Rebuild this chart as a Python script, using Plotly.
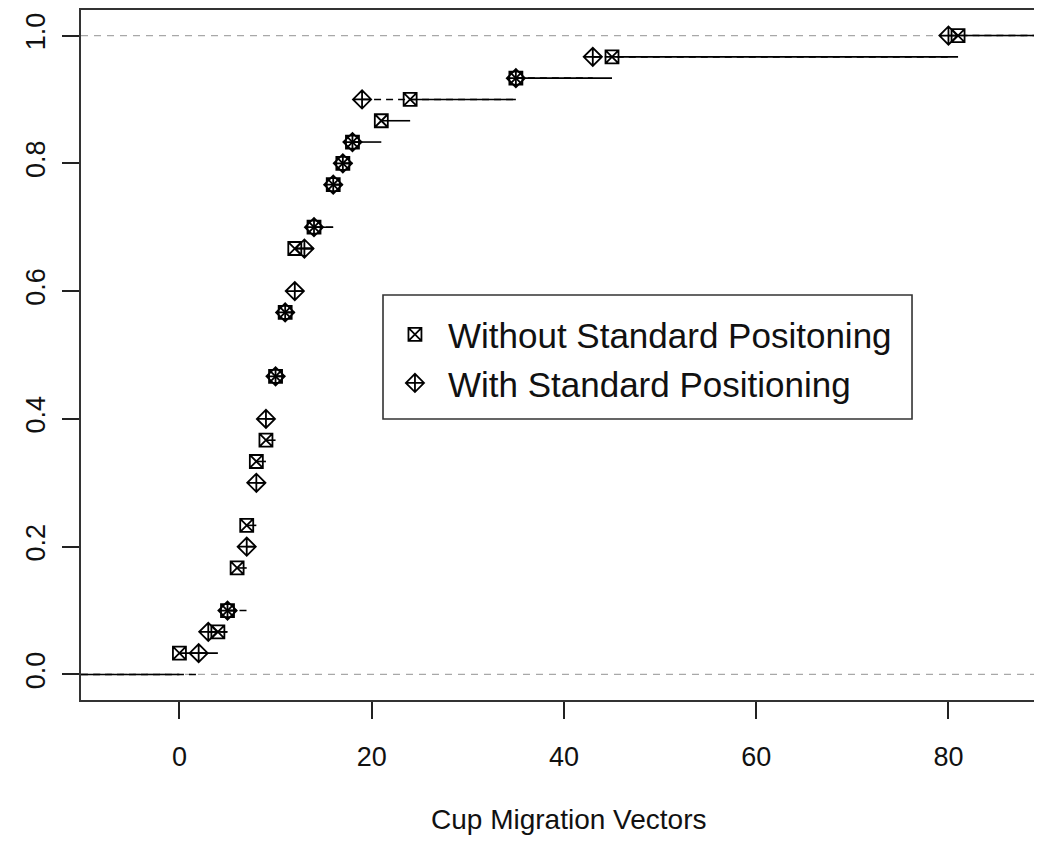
import numpy as np
import plotly.graph_objects as go

# ECDF jump locations and number of observations at each (n = 30 per group)
series_names = ["Without Standard Positoning", "With Standard Positioning"]
x_without = [0, 4, 5, 6, 7, 8, 9, 10, 11, 12, 14, 16, 17, 18, 21, 24, 35, 45, 81]
n_without = [1, 1, 1, 2, 2, 3, 1, 3, 3, 3, 1, 2, 1, 1, 1, 1, 1, 1, 1]
x_with = [2, 3, 5, 7, 8, 9, 10, 11, 12, 13, 14, 16, 17, 18, 19, 35, 43, 80]
n_with = [1, 1, 1, 3, 3, 3, 2, 3, 1, 2, 1, 2, 1, 1, 2, 1, 1, 1]

x_ticks = [0, 20, 40, 60, 80]
y_ticks = [0.0, 0.2, 0.4, 0.6, 0.8, 1.0]
y_tick_text = ["0.0", "0.2", "0.4", "0.6", "0.8", "1.0"]
ref_levels = [0, 1]
x_title = "Cup Migration Vectors"

X_RANGE = [-10.24, 88.9]
Y_RANGE = [-0.04, 1.04]


def ecdf_steps(xs, ns, lo, hi):
    ys = np.cumsum(ns) / np.sum(ns)
    sx, sy = [lo, xs[0], None], [0, 0, None]
    for i in range(len(xs)):
        end = xs[i + 1] if i + 1 < len(xs) else hi
        sx += [xs[i], end, None]
        sy += [ys[i], ys[i], None]
    return ys, sx, sy


fig = go.Figure()
styles = [
    dict(symbol="square-x-open", size=13, dash="solid"),
    dict(symbol="diamond-cross-open", size=14, dash="7px,5px"),
]
for name, xs, ns, st in zip(series_names, [x_without, x_with], [n_without, n_with], styles):
    ys, sx, sy = ecdf_steps(xs, ns, X_RANGE[0] - 5, X_RANGE[1] + 5)
    fig.add_trace(go.Scatter(x=sx, y=sy, mode="lines", showlegend=False,
                             line=dict(color="black", width=1.6, dash=st["dash"]),
                             hoverinfo="skip"))
    fig.add_trace(go.Scatter(x=xs, y=ys, mode="markers", name=name,
                             marker=dict(symbol=st["symbol"], size=st["size"], color="black",
                                         line=dict(color="black", width=1.8))))

for lvl in ref_levels:
    fig.add_shape(type="line", xref="paper", x0=0, x1=1, yref="y", y0=lvl, y1=lvl,
                  line=dict(color="#a8a8a8", width=1.3, dash="7px,6px"), layer="below")

# legend box (paper coords of plot area 81..1034 x 10..700 px)
fig.add_shape(type="rect", xref="paper", yref="paper", x0=0.3169, x1=0.8720, y0=0.4072, y1=0.5870,
              line=dict(color="#333333", width=1.6), fillcolor="rgba(0,0,0,0)")

# x-axis title (centred on the full original plot width, which is cropped on the right)
fig.add_annotation(text=x_title, xref="paper", yref="paper", x=0.512, y=-0.1739,
                   xanchor="center", yanchor="middle", showarrow=False,
                   font=dict(size=28, color="#111111"))

fig.update_layout(
    width=1026, height=827,
    margin=dict(l=73, r=0, t=2, b=135),
    paper_bgcolor="white", plot_bgcolor="white",
    font=dict(family="Liberation Sans, Arial, sans-serif", color="#111111"),
    legend=dict(x=0.3158, y=0.5722, xanchor="left", yanchor="top",
                bgcolor="rgba(0,0,0,0)", borderwidth=0, itemwidth=56,
                font=dict(size=35, color="#111111")),
    xaxis=dict(range=X_RANGE, tickvals=x_ticks, ticks="outside", ticklen=17, tickwidth=1.6,
               tickcolor="#222222", showgrid=False, zeroline=False, showline=True,
               linecolor="#333333", linewidth=1.8, mirror=True,
               tickfont=dict(size=27), ticklabelstandoff=15),
    yaxis=dict(range=Y_RANGE, tickvals=y_ticks, ticktext=y_tick_text, ticks="outside",
               ticklen=17, tickwidth=1.6, tickcolor="#222222", showgrid=False,
               zeroline=False, showline=True, linecolor="#333333", linewidth=1.8,
               tickangle=-90, tickfont=dict(size=27), ticklabelstandoff=6),
)

fig.write_html("out.html")
